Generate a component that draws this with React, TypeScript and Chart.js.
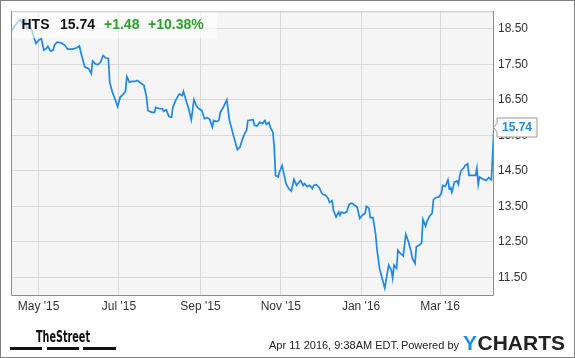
import React, { useEffect, useRef } from "react";
import { Chart, registerables } from "chart.js";

Chart.register(...registerables);

// Days counted from 2015-04-10 (start of the x-axis window)
const dayOffsets = [
  0, 3, 7, 8, 11, 12, 14, 16, 17, 19, 21, 23, 25, 27, 28, 30, 32, 33, 35, 38,
  41, 43, 47, 50, 52, 53, 55, 56, 59, 61, 62, 64, 66, 68, 70, 72, 74, 75, 77, 79,
  81, 83, 85, 87, 88, 90, 92, 94, 96, 98, 101, 103, 104, 107, 109, 110, 113, 115, 116, 118,
  120, 122, 123, 125, 126, 128, 130, 131, 133, 135, 137, 139, 141, 143, 145, 147, 149, 151, 153, 154,
  156, 158, 159, 161, 164, 166, 168, 170, 172, 174, 176, 178, 179, 180, 184, 185, 187, 189, 191, 193,
  194, 196, 197, 199, 200, 201, 203, 204, 206, 207, 209, 211, 213, 215, 217, 218, 220, 222, 223, 225,
  227, 229, 230, 232, 234, 236, 237, 239, 241, 242, 244, 245, 247, 249, 250, 251, 253, 255, 257, 259,
  261, 263, 265, 267, 269, 270, 272, 273, 275, 277, 278, 280, 282, 284, 285, 287, 289, 290, 291, 293,
  294, 296, 298, 300, 302, 304, 305, 307, 308, 310, 312, 313, 315, 316, 318, 320, 321, 323, 325, 327,
  328, 330, 332, 333, 334, 335, 337, 339, 340, 341, 342, 344, 345, 347, 348, 350, 353, 354, 355, 356,
  358, 361, 363, 365, 367,
];

const closePrices = [
  18.42, 18.59, 18.77, 18.68, 18.74, 18.51, 18.59, 18.45, 18.31, 18.09, 18.18, 18.23, 17.9, 17.95, 18.01, 17.88, 17.9, 18.04, 18.13, 18.11,
  18.04, 17.93, 17.93, 17.97, 18.02, 17.85, 17.57, 17.43, 17.38, 17.24, 17.6, 17.52, 17.49, 17.56, 17.75, 17.68, 17.67, 17.0, 16.72, 16.53,
  16.31, 16.58, 16.65, 16.74, 17.16, 17.0, 17.02, 17.02, 17.05, 16.99, 16.91, 16.58, 16.2, 16.15, 16.15, 16.29, 16.25, 16.25, 16.18, 16.22,
  16.03, 16.01, 16.29, 16.48, 16.55, 16.67, 16.62, 16.74, 16.48, 16.25, 15.94, 16.51, 16.32, 16.25, 16.2, 15.97, 16.0, 15.95, 15.73, 15.92,
  15.89, 15.92, 16.15, 16.27, 16.5, 15.92, 15.64, 15.36, 15.1, 15.17, 15.41, 15.59, 15.64, 15.92, 15.94, 15.78, 15.76, 15.87, 15.83, 15.92,
  15.81, 15.87, 15.73, 15.59, 15.17, 14.37, 14.33, 14.47, 14.65, 14.47, 14.14, 14.0, 13.93, 14.26, 14.09, 14.14, 14.23, 14.09, 14.14, 14.06,
  14.09, 14.0, 14.09, 14.11, 14.04, 13.88, 13.84, 13.81, 13.72, 13.61, 13.66, 13.39, 13.2, 13.34, 13.25, 13.34, 13.31, 13.34, 13.56, 13.59,
  13.53, 13.48, 13.16, 13.25, 13.3, 13.5, 13.44, 13.18, 13.18, 12.73, 12.31, 11.75, 11.47, 11.19, 11.42, 11.84, 11.7, 11.47, 11.84, 11.75,
  12.26, 12.17, 12.1, 12.71, 12.5, 12.22, 12.03, 11.89, 12.36, 12.4, 12.47, 13.13, 12.94, 13.06, 13.22, 13.31, 13.69, 13.75, 13.76, 13.86,
  14.09, 14.06, 14.25, 14.0, 14.03, 13.9, 14.19, 14.21, 14.12, 14.37, 14.51, 14.58, 14.65, 14.7, 14.37, 14.37, 14.37, 14.58, 14.12, 14.33,
  14.28, 14.23, 14.31, 14.25, 15.74,
];

const xTickDays = [21, 82, 144, 205, 266, 326];
const xTickLabels = ["May '15", "Jul '15", "Sep '15", "Nov '15", "Jan '16", "Mar '16"];
const yTickValues = [11.5, 12.5, 13.5, 14.5, 15.5, 16.5, 17.5, 18.5];

const ticker = "HTS";
const lastPriceText = "15.74";
const changeText = "+1.48";
const changePctText = "+10.38%";
const timestampText = "Apr 11 2016, 9:38AM EDT.";
const poweredText = "Powered by";

const FONT = "'Liberation Sans', Arial, Helvetica, sans-serif";
const LINE_BLUE = "#1e88e5";

const decorPlugin = {
  id: "decor",
  beforeDraw(chart: any) {
    const { ctx, chartArea, width, height } = chart;
    ctx.save();
    ctx.fillStyle = "#ffffff";
    ctx.fillRect(0, 0, width, height);
    ctx.fillStyle = "#f5f5f5";
    ctx.fillRect(chartArea.left, chartArea.top, chartArea.right - chartArea.left, chartArea.bottom - chartArea.top);
    ctx.restore();
  },
  afterDatasetsDraw(chart: any) {
    const { ctx, chartArea } = chart;
    ctx.save();
    ctx.fillStyle = "rgba(255,255,255,0.6)";
    ctx.fillRect(chartArea.left, chartArea.top, 206, 27);
    ctx.textBaseline = "alphabetic";
    ctx.textAlign = "left";
    ctx.font = `bold 14px ${FONT}`;
    ctx.fillStyle = "#111111";
    ctx.fillText(ticker, 21.5, 28.5);
    ctx.fillText(lastPriceText, 60, 28.5);
    ctx.fillStyle = "#2e9e2e";
    ctx.fillText(changeText, 104, 28.5);
    ctx.fillText(changePctText, 148, 28.5);
    ctx.restore();
  },
  afterDraw(chart: any) {
    const { ctx, chartArea, width, height } = chart;
    ctx.save();
    ctx.lineWidth = 1;
    ctx.strokeStyle = "#c8c8c8";
    ctx.beginPath();
    ctx.moveTo(chartArea.left, chartArea.top + 0.5);
    ctx.lineTo(chartArea.right, chartArea.top + 0.5);
    ctx.stroke();
    ctx.strokeStyle = "#8c8c8c";
    ctx.beginPath();
    ctx.moveTo(chartArea.left + 0.5, chartArea.top);
    ctx.lineTo(chartArea.left + 0.5, chartArea.bottom + 0.5);
    ctx.lineTo(chartArea.right - 0.5, chartArea.bottom + 0.5);
    ctx.lineTo(chartArea.right - 0.5, chartArea.top);
    ctx.stroke();

    // last value tag
    const yScale = chart.scales.y;
    const lastVal = closePrices[closePrices.length - 1];
    const py = Math.round(yScale.getPixelForValue(lastVal)) + 0.5;
    const bx = chartArea.right + 3;
    const bTop = py - 9.5;
    const bBot = py + 9.5;
    ctx.beginPath();
    ctx.moveTo(chartArea.right - 0.5, py);
    ctx.lineTo(bx, py - 4);
    ctx.lineTo(bx, bTop);
    ctx.lineTo(bx + 40, bTop);
    ctx.lineTo(bx + 40, bBot);
    ctx.lineTo(bx, bBot);
    ctx.lineTo(bx, py + 4);
    ctx.closePath();
    ctx.fillStyle = "#ffffff";
    ctx.fill();
    ctx.strokeStyle = "#999999";
    ctx.stroke();
    ctx.fillStyle = LINE_BLUE;
    ctx.font = `bold 12px ${FONT}`;
    ctx.textBaseline = "middle";
    ctx.textAlign = "left";
    ctx.fillText(lastPriceText, bx + 5, py + 0.5);

    // footer: TheStreet logo
    ctx.textBaseline = "alphabetic";
    ctx.fillStyle = "#111111";
    ctx.font = `bold 16px 'Liberation Sans Narrow', 'DejaVu Sans Condensed', ${FONT}`;
    const tsW = ctx.measureText("TheStreet").width;
    ctx.save();
    ctx.translate(36, 342);
    ctx.scale(54 / tsW, 1);
    ctx.fillText("TheStreet", 0, 0);
    ctx.restore();
    ctx.fillRect(10, 347, 32, 3);
    ctx.fillRect(47, 347, 32, 3);
    ctx.fillRect(83, 347, 33, 3);

    // timestamp text
    ctx.font = `11px ${FONT}`;
    ctx.fillStyle = "#222222";
    ctx.textAlign = "left";
    ctx.fillText(timestampText, 269, 349);
    ctx.textAlign = "right";
    ctx.fillText(poweredText, 459, 349);

    // YCHARTS logo
    ctx.textAlign = "left";
    ctx.font = `bold 21px ${FONT}`;
    ctx.fillStyle = "#1d8fe3";
    ctx.fillText("Y", 463, 349.5);
    const yW = ctx.measureText("Y").width;
    ctx.fillStyle = "#222222";
    ctx.fillText("CHARTS", 463 + yW + 0.5, 349.5);

    // outer border
    ctx.strokeStyle = "#808080";
    ctx.lineWidth = 1;
    ctx.strokeRect(0.5, 0.5, width - 1, height - 1);
    ctx.restore();
  },
};

export default function App() {
  const canvasRef = useRef<HTMLCanvasElement | null>(null);

  useEffect(() => {
    document.body.style.margin = "0";
    const canvas = canvasRef.current;
    if (!canvas) return;
    const chart = new Chart(canvas, {
      type: "line",
      data: {
        datasets: [
          {
            data: dayOffsets.map((d, i) => ({ x: d, y: closePrices[i] })),
            borderColor: LINE_BLUE,
            borderWidth: 1.7,
            pointRadius: 0,
            tension: 0,
            fill: false,
          },
        ],
      },
      options: {
        animation: false,
        responsive: false,
        devicePixelRatio: 1,
        layout: { padding: { left: 11, top: 10, right: 0, bottom: 0 } },
        plugins: { legend: { display: false }, tooltip: { enabled: false } },
        scales: {
          x: {
            type: "linear",
            position: "bottom",
            min: 0,
            max: 367,
            afterBuildTicks: (s: any) => {
              s.ticks = xTickDays.map((v) => ({ value: v }));
            },
            afterFit: (s: any) => {
              s.height = 63;
            },
            grid: { color: "#d9d9d9", lineWidth: 1, drawTicks: false },
            border: { display: false },
            ticks: {
              autoSkip: false,
              maxRotation: 0,
              padding: 4,
              color: "#333333",
              font: { family: FONT, size: 12 },
              callback: (_v: any, i: number) => xTickLabels[i],
            },
          },
          y: {
            type: "linear",
            position: "right",
            min: 11,
            max: 19,
            afterBuildTicks: (s: any) => {
              s.ticks = yTickValues.map((v) => ({ value: v }));
            },
            afterFit: (s: any) => {
              s.width = 81;
            },
            grid: { color: "#d9d9d9", lineWidth: 1, drawTicks: false },
            border: { display: false },
            ticks: {
              autoSkip: false,
              padding: 4,
              color: "#333333",
              font: { family: FONT, size: 12 },
              callback: (v: any) => Number(v).toFixed(2),
            },
          },
        },
      },
      plugins: [decorPlugin],
    });
    return () => chart.destroy();
  }, []);

  return (
    <div style={{ position: "absolute", left: 0, top: 0, width: 575, height: 358 }}>
      <canvas ref={canvasRef} width={575} height={358} style={{ display: "block" }} />
    </div>
  );
}
